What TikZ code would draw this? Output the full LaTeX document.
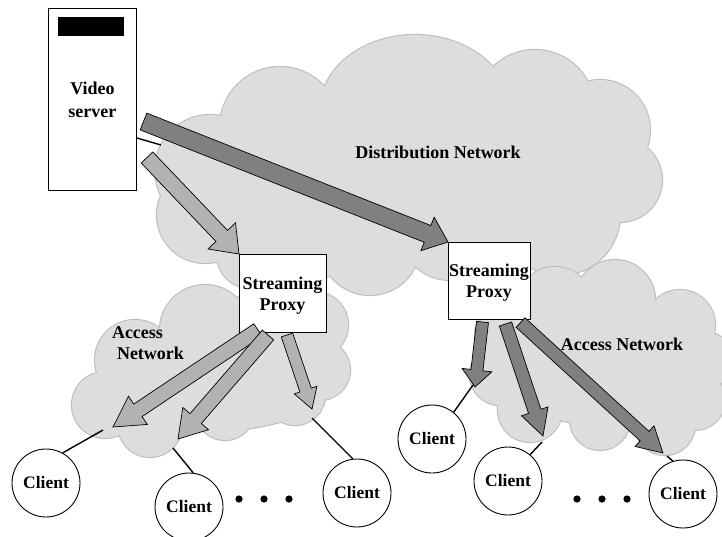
\documentclass[tikz,border=0pt]{standalone}
\usepackage{fontspec}
\setmainfont{Liberation Serif}
\usetikzlibrary{calc}

\definecolor{cloudfill}{gray}{0.865}
\definecolor{cloudline}{gray}{0.74}
\definecolor{lightflow}{gray}{0.70}
\definecolor{darkflow}{gray}{0.50}

% Broad block arrow from #2 to #3: shaft half width #4, head half width #5, head length #6
\newcommand\fatarrow[6]{%
  \coordinate (fabase) at ($(#3)!#6!(#2)$);
  \path[#1] ($(#2)!#4!90:(#3)$) -- ($(fabase)!#4!90:(#3)$)
    -- ($(fabase)!#5!90:(#3)$) -- (#3) -- ($(fabase)!#5!-90:(#3)$)
    -- ($(fabase)!#4!-90:(#3)$) -- ($(#2)!#4!-90:(#3)$) -- cycle;}

% Cloud outlines as unions of circles and ellipses
\def\distcloud{(210,170) circle[radius=55] (205,215) circle[radius=48]
  (250,255) circle[radius=33] (280,127) circle[radius=60]
  (415,110) circle[x radius=95, y radius=75] (535,110) circle[radius=60]
  (600,130) circle[radius=50] (620,180) circle[radius=42]
  (560,215) circle[radius=60] (450,230) circle[radius=50]
  (370,245) circle[radius=50] (300,235) circle[radius=50]
  (410,175) circle[x radius=200, y radius=85]}
\def\leftcloud{(205,330) circle[radius=45] (135,360) circle[radius=40]
  (105,405) circle[radius=33] (150,425) circle[radius=32]
  (225,410) circle[radius=30] (295,395) circle[radius=30]
  (320,370) circle[radius=30] (315,325) circle[radius=33]
  (265,320) circle[radius=35] (220,380) circle[x radius=110, y radius=50]}
\def\rightcloud{(555,305) circle[radius=38] (615,300) circle[radius=40]
  (680,325) circle[radius=35] (705,360) circle[radius=28]
  (695,400) circle[radius=30] (665,425) circle[radius=30]
  (600,420) circle[radius=30] (530,410) circle[radius=32]
  (500,375) circle[radius=30] (505,335) circle[radius=30]
  (600,365) circle[x radius=100, y radius=60]}

\begin{document}
\begin{tikzpicture}[x=1pt,y=-1pt,
  txt/.style={font=\fontsize{18}{21}\selectfont\bfseries, align=center, inner sep=0pt},
  box/.style={draw=black, fill=white, line width=0.9pt, inner sep=0pt},
  client/.style={circle, draw=black, fill=white, minimum size=68pt, inner sep=0pt,
    line width=0.9pt, font=\fontsize{17.5}{21}\selectfont\bfseries},
  wire/.style={draw=black, line width=1.4pt},
  cloudrim/.style={draw=cloudline, line width=2.2pt},
  cloudbody/.style={fill=cloudfill},
  lightarrow/.style={fill=lightflow, draw=black, line width=0.7pt},
  darkarrow/.style={fill=darkflow, draw=black, line width=0.7pt}]
\useasboundingbox (0,0) rectangle (722,536);
\fill[white] (0,0) rectangle (722,536);

% clouds
\path[cloudrim] \distcloud;
\path[cloudbody] \distcloud;
\path[cloudrim] \leftcloud;
\path[cloudbody] \leftcloud;
\path[cloudrim] \rightcloud;
\path[cloudbody] \rightcloud;

% video server
\node[box, minimum width=88pt, minimum height=182pt, anchor=north west,
  txt, font=\fontsize{18}{23}\selectfont\bfseries] (srv) at (48,8) {Video\\server};
\fill[black] (58,17) rectangle (124,36);
\coordinate (sw) at (161,145);
\draw[wire] ($(srv.north east)+(0,130)$) -- (sw);

% streaming proxies
\node[box, minimum width=87pt, minimum height=78pt, anchor=north west] (p1) at (239,254) {};
\node[txt] at (282.5,295.5) {Streaming\\Proxy};
\node[box, minimum width=82pt, minimum height=77pt, anchor=north west] (p2) at (448,242) {};
\node[txt] at (489,283) {Streaming\\Proxy};

% clients
\node[client] (c1) at (46,483) {Client};
\node[client] (c2) at (189,507) {Client};
\node[client] (c3) at (357,493) {Client};
\node[client] (c4) at (432,439) {Client};
\node[client] (c5) at (508,481) {Client};
\node[client] (c6) at (683,494) {Client};

% flows from the server
\coordinate (s1) at (143.5,121.5);
\coordinate (s2) at (147,157.5);
\fatarrow{darkarrow}{s1}{p2.north west}{9pt}{18pt}{22pt}
\fatarrow{lightarrow}{s2}{p1.north west}{8pt}{19pt}{25pt}

% flows from the left proxy
\coordinate (a1) at (258,330);  \coordinate (a1e) at (113,427);
\coordinate (a2) at (268,335);  \coordinate (a2e) at (178,439);
\coordinate (a3) at (287,335);  \coordinate (a3e) at (312,409);
\fatarrow{lightarrow}{a1}{a1e}{7.5pt}{17pt}{30pt}
\fatarrow{lightarrow}{a2}{a2e}{7.5pt}{17pt}{27pt}
\fatarrow{lightarrow}{a3}{a3e}{6pt}{12pt}{20pt}

% flows from the right proxy
\coordinate (b1) at (482.5,322); \coordinate (b1e) at (475,387);
\coordinate (b2) at (505.5,324); \coordinate (b2e) at (543,436);
\coordinate (b3) at (520.5,322.5); \coordinate (b3e) at (663,453);
\fatarrow{darkarrow}{b1}{b1e}{6pt}{15pt}{17pt}
\fatarrow{darkarrow}{b2}{b2e}{6.5pt}{14pt}{26pt}
\fatarrow{darkarrow}{b3}{b3e}{6.5pt}{14pt}{25pt}

% access links to clients
\coordinate (w1) at (103,430);
\coordinate (w2) at (173,448);
\coordinate (w3) at (312,418);
\coordinate (w4) at (473,385);
\coordinate (w5) at (542,442);
\coordinate (w6) at (667,456);
\draw[wire] (w1) -- (c1.61);
\draw[wire] (w2) -- (c2.83);
\draw[wire] (w3) -- (c3.97);
\draw[wire] (w4) -- (c4.51);
\draw[wire] (w5) -- (c5.50);
\draw[wire] (w6) -- (c6.107);

% ellipsis dots
\foreach \x in {239,264,289} \fill (\x,499) circle[radius=3.6];
\foreach \x in {577,602,627} \fill (\x,499) circle[radius=3.6];

% labels
\node[txt] (dn) at (438,152) {Distribution Network};
\node[txt, align=left] (an1) at (148,343) {Access\\\hspace*{5pt}Network};
\node[txt] (an2) at (622,344) {Access Network};
\end{tikzpicture}
\end{document}
